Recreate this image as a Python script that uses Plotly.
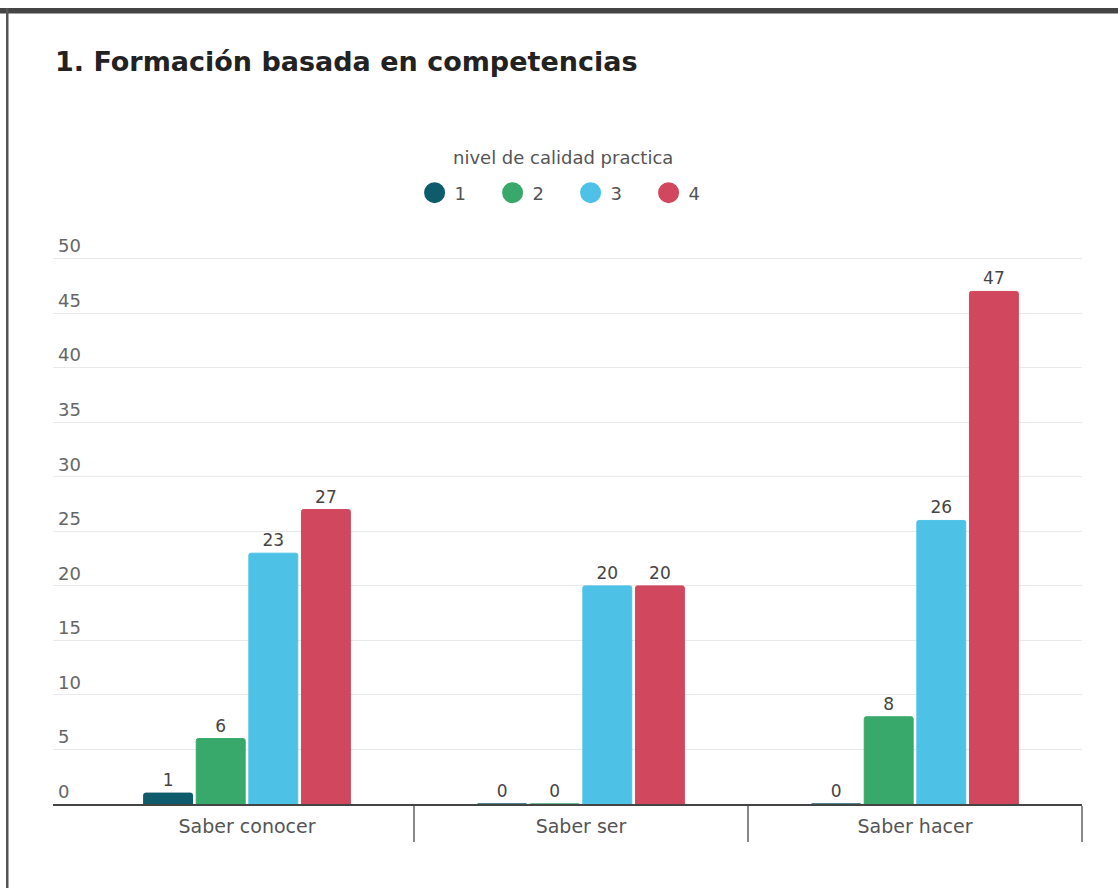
import plotly.graph_objects as go

categories = ["Saber conocer", "Saber ser", "Saber hacer"]
levels = ["1", "2", "3", "4"]
values_1 = [1, 0, 0]
values_2 = [6, 0, 8]
values_3 = [23, 20, 26]
values_4 = [27, 20, 47]
y_ticks = [0, 5, 10, 15, 20, 25, 30, 35, 40, 45, 50]
legend_title = "nivel de calidad practica"

colors = ["#0e5b6b", "#38a86b", "#4ec2e6", "#d0475e"]
series = [values_1, values_2, values_3, values_4]

FONT = "DejaVu Sans"
W, H = 1118, 888
ymax = 53
zero_px, fifty_px = 804, 259
ppu = (zero_px - fifty_px) / 50.0
mt = round(zero_px - ymax * ppu)
ml, mr, mb = 53, 36, H - zero_px

fig = go.Figure()
for name, vals, col in zip(levels, series, colors):
    fig.add_trace(go.Bar(
        x=categories, y=vals, name=name, showlegend=False,
        marker=dict(color=col, line=dict(color=col, width=1), cornerradius=2),
        text=[str(v) for v in vals], textposition="outside",
        textfont=dict(family=FONT, size=17, color="#444"),
        cliponaxis=False,
    ))
for name, col in zip(levels, colors):
    fig.add_trace(go.Scatter(
        x=[None], y=[None], mode="markers", name=name,
        marker=dict(symbol="circle", size=16, color=col, line=dict(color=col, width=6)),
        showlegend=True,
    ))

pw = W - ml - mr
ph = H - mt - mb
def px_x(p):
    return (p - ml) / pw
def px_y(p):
    return (H - mb - p) / ph

fig.update_layout(
    width=W, height=H,
    margin=dict(l=ml, r=mr, t=mt, b=mb, pad=0),
    paper_bgcolor="white", plot_bgcolor="white",
    barmode="group", bargap=0.37, bargroupgap=0.07,
    font=dict(family=FONT, color="#555"),
    title=dict(text="<b>1. Formación basada en competencias</b>",
               xref="container", x=55 / W, xanchor="left",
               yref="container", y=1 - 62 / H, yanchor="middle",
               font=dict(family=FONT, size=27, color="#222")),
    legend=dict(orientation="h", x=0.503, xanchor="center", y=px_y(193), yanchor="middle",
                font=dict(size=18, color="#555"), itemwidth=30, entrywidth=33,
                tracegroupgap=0, bgcolor="rgba(0,0,0,0)"),
    annotations=[dict(text=legend_title, xref="paper", yref="paper",
                      x=px_x(563), y=px_y(157), xanchor="center", yanchor="middle",
                      showarrow=False, font=dict(family=FONT, size=18, color="#555"))],
    xaxis=dict(type="category", range=[-0.5 - 27 / 334, 2.5],
               showline=True, linecolor="#444", linewidth=2,
               ticks="outside", tickson="boundaries", ticklen=36, tickwidth=2,
               tickcolor="#888", showgrid=False, ticklabelstandoff=4,
               tickfont=dict(size=19, color="#555"), fixedrange=True),
    yaxis=dict(range=[0, ymax], tickvals=y_ticks, ticktext=[str(t) for t in y_ticks],
               ticklabelposition="inside top", showgrid=True, gridcolor="#e9e9e9",
               gridwidth=1, zeroline=False, showline=False,
               tickfont=dict(size=18, color="#666"), ticklabelstandoff=2),
    shapes=[
        dict(type="rect", xref="paper", yref="paper", x0=px_x(0), x1=px_x(W),
             y0=px_y(13.5), y1=px_y(8), fillcolor="#454545", line=dict(width=0), layer="above"),
        dict(type="rect", xref="paper", yref="paper", x0=px_x(6), x1=px_x(8.5),
             y0=px_y(H), y1=px_y(8), fillcolor="#555", line=dict(width=0), layer="above"),
    ],
)

fig.write_html("out.html", config={"displayModeBar": False},
               post_script="document.body.style.margin='0';")
